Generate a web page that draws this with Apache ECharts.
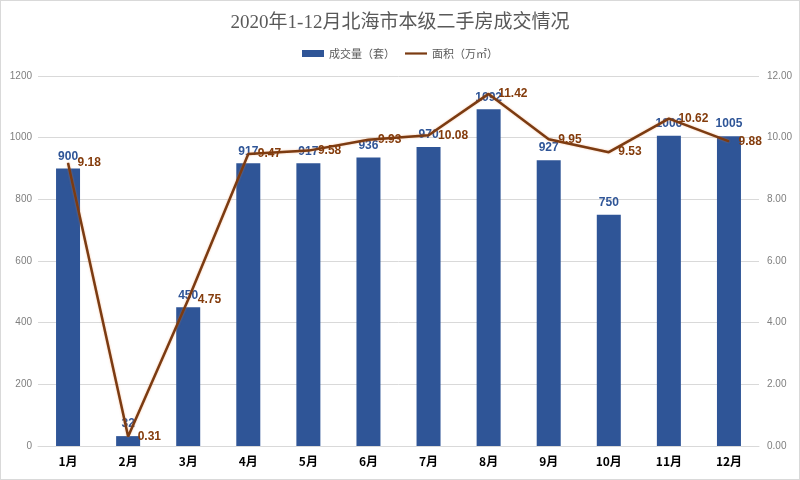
<!DOCTYPE html>
<html>
<head>
<meta charset="utf-8">
<script src="https://cdn.jsdelivr.net/npm/echarts@6/dist/echarts.min.js"></script>
<style>
html,body{margin:0;padding:0;background:#fff;}
#c{width:798px;height:478px;border:1px solid #D9D9D9;}
</style>
</head>
<body>
<div id="c"></div>
<script>
var categories = ['1月','2月','3月','4月','5月','6月','7月','8月','9月','10月','11月','12月'];
var volume = [900, 32, 450, 917, 917, 936, 970, 1092, 927, 750, 1006, 1005];
var area = [9.18, 0.31, 4.75, 9.47, 9.58, 9.93, 10.08, 11.42, 9.95, 9.53, 10.62, 9.88];
var leftTicks = {min: 0, max: 1200, interval: 200};
var rightTicks = {min: 0, max: 12, interval: 2};

var chart = echarts.init(document.getElementById('c'));
chart.setOption({
  backgroundColor: '#fff',
  animation: false,
  title: {
    text: '2020年1-12月北海市本级二手房成交情况',
    left: 'center', top: 8,
    textStyle: {fontFamily: '"Liberation Serif","Noto Sans CJK SC",serif', fontSize: 19, fontWeight: 'normal', color: '#595959'}
  },
  legend: {
    top: 42, left: 'center',
    itemWidth: 22, itemHeight: 7, itemGap: 10,
    textStyle: {fontSize: 11, color: '#595959', fontFamily: '"Noto Sans CJK SC",sans-serif'},
    data: [{name: '成交量（套）', icon: 'rect'}, {name: '面积（万㎡）', icon: 'path://M0,0 L10,0 L10,1 L0,1 Z'}]
  },
  grid: {left: 37, right: 40, top: 75, bottom: 33},
  xAxis: {
    type: 'category', data: categories,
    axisLine: {lineStyle: {color: '#D9D9D9'}},
    axisTick: {show: false},
    axisLabel: {color: '#000', fontWeight: 'bold', fontSize: 12, margin: 9, fontFamily: '"Noto Sans CJK SC",sans-serif'}
  },
  yAxis: [{
    type: 'value', min: leftTicks.min, max: leftTicks.max, interval: leftTicks.interval,
    axisLine: {show: false}, axisTick: {show: false},
    splitLine: {lineStyle: {color: '#D9D9D9'}},
    axisLabel: {color: '#7F7F7F', fontSize: 10, margin: 6, formatter: function(v){return String(v);}}
  }, {
    type: 'value', min: rightTicks.min, max: rightTicks.max, interval: rightTicks.interval,
    axisLine: {show: false}, axisTick: {show: false},
    splitLine: {show: false},
    axisLabel: {color: '#7F7F7F', fontSize: 10, margin: 8, formatter: function(v){return v.toFixed(2);}}
  }],
  series: [{
    name: '成交量（套）', type: 'bar', data: volume, barWidth: 24,
    itemStyle: {color: '#2F5597'},
    label: {show: true, position: 'top', color: '#2F5597', fontWeight: 'bold', fontSize: 12, distance: 6}
  }, {
    name: '面积（万㎡）', type: 'line', yAxisIndex: 1, data: area,
    symbol: 'circle', symbolSize: 1, showSymbol: true,
    lineStyle: {color: '#7B3B12', width: 2.5, shadowColor: 'rgba(237,125,49,0.5)', shadowBlur: 2},
    itemStyle: {color: '#7B3B12'},
    label: {show: true, position: 'right', color: '#843C0C', fontWeight: 'bold', fontSize: 12, distance: 9,
      formatter: function(p){return p.value.toFixed(2);}}
  }]
});
</script>
</body>
</html>
